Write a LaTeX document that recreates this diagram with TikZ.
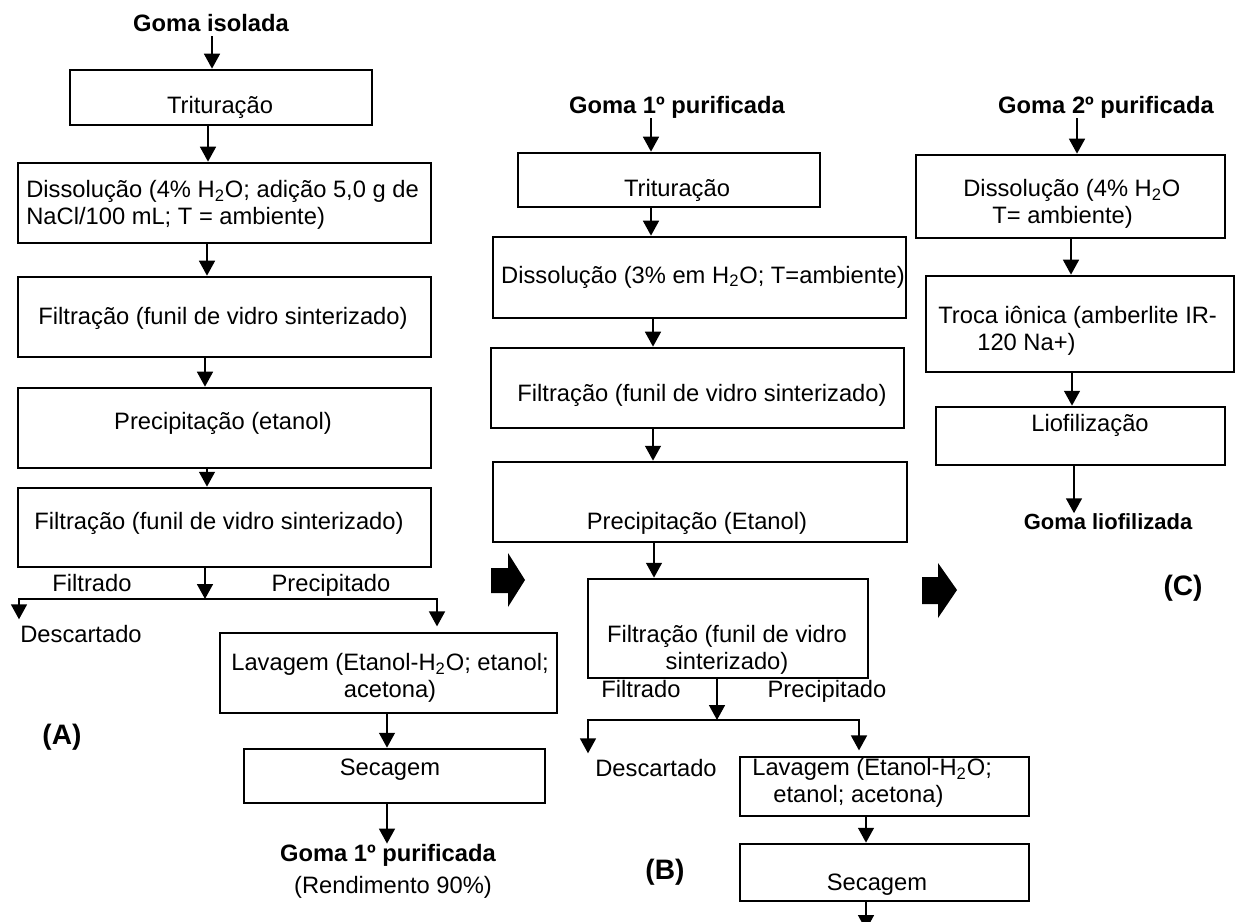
\documentclass[tikz,border=0pt]{standalone}
\usepackage{fontspec}
\setmainfont{Liberation Sans}
\usetikzlibrary{arrows.meta,fit}

\tikzset{
  box/.style={draw, line width=1.5pt, inner sep=0pt},
  txt/.style={inner sep=0pt, text depth=2.8pt, font=\fontsize{13.5}{15}\selectfont},
  ttl/.style={inner sep=0pt, text depth=2.8pt, font=\fontsize{13.5}{15}\selectfont\bfseries},
  tag/.style={inner sep=0pt, font=\fontsize{16}{18}\selectfont\bfseries},
  arr/.style={line width=1.15pt, -{Triangle[width=9pt,length=8.5pt]}},
  split/.style={line width=1.15pt, {Triangle[width=9pt,length=8.5pt]}-{Triangle[width=9pt,length=8.5pt]}, shorten <=3pt, shorten >=3pt},
}

\begin{document}
\begin{tikzpicture}[x=0.02cm, y=-0.02cm]
\useasboundingbox (0,0) rectangle (1237,922);
\fill[white] (0,0) rectangle (1237,922);
\clip (0,0) rectangle (1237,922);

\node[ttl] (ga) at (211,25) {Goma isolada};
\node[box, fit={(70,70) (372,125)}] (a1) {};
\node[txt] (a1t) at (220,107) {Trituração};
\node[box, fit={(18,163) (431,243)}] (a2) {};
\node[txt, anchor=west, align=left] (a2t) at (26,205) {Dissolução (4\% H\textsubscript{2}O; adição 5,0 g de\\NaCl/100 mL; T = ambiente)};
\node[box, fit={(18,277) (431,357)}] (a3) {};
\node[txt] (a3t) at (223,318) {Filtração (funil de vidro sinterizado)};
\node[box, fit={(18,388) (431,468)}] (a4) {};
\node[txt] (a4t) at (223,423) {Precipitação (etanol)};
\node[box, fit={(18,488) (431,567)}] (a5) {};
\node[txt] (a5t) at (219,523) {Filtração (funil de vidro sinterizado)};
\node[txt] (fa) at (92,585) {Filtrado};
\node[txt] (pa) at (331,585) {Precipitado};
\coordinate (aj) at (205,599);
\coordinate (ajl) at (19,599);
\coordinate (ajr) at (437,599);
\node[txt, anchor=west] (da) at (20,636) {Descartado};
\node[box, fit={(220,633) (557,713)}] (a6) {};
\node[txt, align=center] (a6t) at (390,678) {Lavagem (Etanol-H\textsubscript{2}O; etanol;\\acetona)};
\node[box, fit={(244,749) (545,803)}] (a7) {};
\node[txt] (a7t) at (390,770) {Secagem};
\node[ttl] (gb1) at (388,855) {Goma 1º purificada};
\node[txt] (rend) at (393,887) {(Rendimento 90\%)};
\node[tag] (la) at (62,737) {(A)};

\draw[arr] (ga.south -| 212,0) -- (a1.north -| 212,0);
\draw[arr] (a1.south -| 208,0) -- (a2.north -| 208,0);
\draw[arr] (a2.south -| 207,0) -- (a3.north -| 207,0);
\draw[arr] (a3.south -| 205,0) -- (a4.north -| 205,0);
\draw[arr] (a4.south -| 207,0) -- (a5.north -| 207,0);
\draw[arr] (a5.south -| aj) -- (aj);
\draw[split] (ajl |- da.north) -- (ajl) -- (ajr) -- (ajr |- a6.north);
\draw[arr] (a6.south -| 387,0) -- (a7.north -| 387,0);
\draw[arr] (a7.south -| 387,0) -- (gb1.north -| 387,0);

\fill (491,568) -- (508,568) -- (508,553) -- (525,580) -- (508,607) -- (508,593) -- (491,593) -- cycle;

\node[ttl] (gb) at (677,107) {Goma 1º purificada};
\node[box, fit={(518,153) (820,207)}] (b1) {};
\node[txt] (b1t) at (677,190) {Trituração};
\node[box, fit={(493,237) (906,318)}] (b2) {};
\node[txt] (b2t) at (703,277) {Dissolução (3\% em H\textsubscript{2}O; T=ambiente)};
\node[box, fit={(491,348) (904,428)}] (b3) {};
\node[txt] (b3t) at (702,395) {Filtração (funil de vidro sinterizado)};
\node[box, fit={(493,462) (907,542)}] (b4) {};
\node[txt] (b4t) at (697,523) {Precipitação (Etanol)};
\node[box, fit={(588,579) (868,678)}] (b5) {};
\node[txt, align=center] (b5t) at (727,650) {Filtração (funil de vidro\\sinterizado)};
\node[txt] (fb) at (641,691) {Filtrado};
\node[txt] (pb) at (827,691) {Precipitado};
\coordinate (bj) at (717,720);
\coordinate (bjl) at (588,720);
\coordinate (bjr) at (859,720);
\node[txt] (db) at (656,770) {Descartado};
\node[box, fit={(740,757) (1029,816)}] (b6) {};
\node[txt, anchor=west, align=left] (b6t) at (752,783) {Lavagem (Etanol-H\textsubscript{2}O;\\\hspace*{0.42cm}etanol; acetona)};
\node[box, fit={(740,844) (1029,901)}] (b7) {};
\node[txt] (b7t) at (877,885) {Secagem};
\coordinate (bend) at (866,930);
\node[tag] (lb) at (665,872) {(B)};

\draw[arr] (gb.south -| 651,0) -- (b1.north -| 651,0);
\draw[arr] (b1.south -| 651,0) -- (b2.north -| 651,0);
\draw[arr] (b2.south -| 653,0) -- (b3.north -| 653,0);
\draw[arr] (b3.south -| 653,0) -- (b4.north -| 653,0);
\draw[arr] (b4.south -| 654,0) -- (b5.north -| 654,0);
\draw[arr] (b5.south -| bj) -- (bj);
\draw[split] (bjl |- db.north) -- (bjl) -- (bjr) -- (bjr |- b6.north);
\draw[arr] (b6.south -| 866,0) -- (b7.north -| 866,0);
\draw[arr] (b7.south -| bend) -- (bend);

\fill (922,577) -- (938,577) -- (938,563) -- (957,590) -- (938,618) -- (938,604) -- (922,604) -- cycle;

\node[ttl] (gc) at (1106,107) {Goma 2º purificada};
\node[box, fit={(916,155) (1225,238)}] (c1) {};
\node[txt, anchor=west, align=left] (c1t) at (963,204) {Dissolução (4\% H\textsubscript{2}O\\\hspace*{0.58cm}T= ambiente)};
\node[box, fit={(926,276) (1234,372)}] (c2) {};
\node[txt, anchor=west, align=left] (c2t) at (938,331) {Troca iônica (amberlite IR-\\\hspace*{0.78cm}120 Na+)};
\node[box, fit={(936,407) (1225,465)}] (c3) {};
\node[txt] (c3t) at (1090,425) {Liofilização};
\node[ttl, font=\fontsize{12.5}{14}\selectfont\bfseries] (gl) at (1108,524) {Goma liofilizada};
\node[tag] (lc) at (1183,588) {(C)};

\draw[arr] (gc.south -| 1077,0) -- (c1.north -| 1077,0);
\draw[arr] (c1.south -| 1071,0) -- (c2.north -| 1071,0);
\draw[arr] (c2.south -| 1072,0) -- (c3.north -| 1072,0);
\draw[arr] (c3.south -| 1074,0) -- (gl.north -| 1074,0);
\end{tikzpicture}
\end{document}
